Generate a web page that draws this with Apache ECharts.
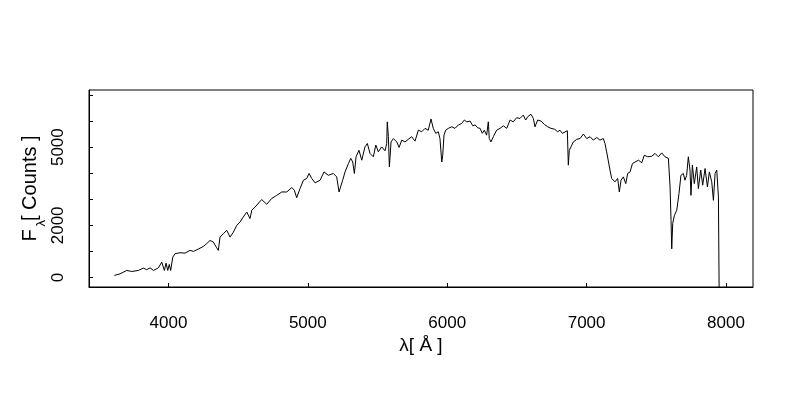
<!DOCTYPE html>
<html>
<head>
<meta charset="utf-8">
<script src="https://cdn.jsdelivr.net/npm/echarts@6/dist/echarts.min.js"></script>
<style>
html,body{margin:0;padding:0;background:#fff;}
#chart{width:800px;height:400px;}
</style>
</head>
<body>
<div id="chart"></div>
<script>
// Wavelength (Angstrom) and flux (counts)
const wavelength = [
3612,3653,3701,3737,3784,3820,3844,3868,3892,3928,3952,3971,3983,3995,4006,4016,4031,4047,4083,4119,
4155,4179,4214,4250,4275,4298,4322,4346,4358,4370,4394,4418,4442,4466,4490,4514,4537,4562,4585,4598,
4621,4669,4705,4741,4777,4813,4849,4885,4903,4920,4944,4968,4992,5009,5028,5052,5088,5116,5147,5183,
5207,5224,5238,5250,5267,5291,5308,5322,5334,5346,5367,5387,5410,5427,5446,5470,5488,5506,5530,5554,
5566,5570,5578,5585,5597,5614,5638,5655,5674,5697,
5721,5745,5769,5793,5817,5841,5864,5884,5900,5918,5936,5948,5961,5968,5977,5989,6008,6032,6056,6080,
6104,6123,6140,6164,6183,6200,6219,6236,6252,6266,6283,6295,6302,6314,6331,6343,6355,6379,6403,6427,
6451,6474,6498,6522,6546,6563,6578,6601,6618,6630,6649,6673,6697,6721,6745,6769,6793,6809,6826,
6840,6862,6869,6876,6888,6905,6929,6953,6977,7001,7025,7048,7073,7096,7120,7132,7144,7156,7168,7180,
7204,7223,7235,7247,7264,7281,7295,7312,7329,7348,7372,7396,7414,7439,7467,7491,7515,7539,7563,7587,
7599,7606,7611,7618,7630,7647,7663,7677,7694,7706,7718,7730,7742,7749,7759,7773,7790,7802,7819,7833,
7850,7867,7881,7898,7910,7922,7934,7946,7953
];
const flux = [
80,140,270,230,270,360,300,370,270,370,590,270,550,270,500,270,780,910,950,935,
1040,1000,1090,1190,1300,1420,1360,1140,1040,1550,1680,1810,1550,1740,2000,2130,2320,2510,2260,2580,
2700,2990,2810,3030,3150,3280,3280,3450,3350,3060,3410,3730,3800,3990,3800,3630,3730,4050,3920,3990,
3860,3280,3220,3730,4050,4370,4570,4430,3990,4630,4880,4500,5010,5140,4760,4630,5080,4820,5010,4860,
5140,5970,5400,4240,5200,5330,5200,4990,5270,5200,
5300,5400,5230,5650,5590,5720,5650,6080,5720,5530,5590,5330,4430,4690,5460,5650,5720,5780,5720,5850,
5910,6040,5970,6000,5820,5850,5740,5720,5530,5650,5460,5970,5330,5200,5400,5330,5650,5720,5820,5720,
6040,5970,6130,6100,6230,6040,6170,6260,6100,5780,6040,6000,5870,5780,5720,5690,5590,5650,5530,
5590,5630,4310,4880,5010,5200,5300,5330,5500,5330,5400,5270,5370,5270,5330,5140,4820,4760,4120,3800,
3670,3800,3280,3730,3860,3600,3990,4050,4370,4430,4500,4400,4690,4630,4650,4760,4630,4780,4630,4570,
3470,2190,1100,2070,2380,2580,3220,3920,3990,3730,3920,4630,4120,3150,4310,3600,4240,3410,4120,3540,
4180,3470,4050,3670,2960,3990,4120,3090,-2000
];
const xTicks = [4000, 5000, 6000, 7000, 8000];
const yTicks = [0, 1000, 2000, 3000, 4000, 5000, 6000, 7000];
const yLabels = [0, 2000, 5000];
const xRange = [3430, 8194];
const yRange = [-365, 7192];

const FONT = 'Liberation Sans, Arial, Helvetica, sans-serif';
const chart = echarts.init(document.getElementById('chart'), null, {renderer: 'canvas'});
chart.setOption({
  animation: false,
  backgroundColor: '#ffffff',
  grid: {left: 89, right: 47, top: 90, bottom: 113, show: true, borderColor: '#000', borderWidth: 1, backgroundColor: 'transparent'},
  xAxis: {
    type: 'value', min: xRange[0], max: xRange[1],
    axisLine: {show: true, onZero: false, lineStyle: {color: '#000', width: 1}},
    axisTick: {show: true, inside: true, length: 4, customValues: xTicks, lineStyle: {color: '#000'}},
    axisLabel: {show: true, customValues: xTicks, formatter: v => String(v), color: '#000', fontSize: 17, fontFamily: FONT, margin: 28},
    splitLine: {show: false}
  },
  yAxis: {
    type: 'value', min: yRange[0], max: yRange[1],
    axisLine: {show: true, onZero: false, lineStyle: {color: '#000', width: 1}},
    axisTick: {show: true, inside: true, length: 4, customValues: yTicks, lineStyle: {color: '#000'}},
    axisLabel: {show: true, customValues: yLabels, formatter: v => String(v), rotate: 90, color: '#000', fontSize: 17, fontFamily: FONT, margin: 22},
    splitLine: {show: false}
  },
  series: [{
    type: 'line',
    data: wavelength.map((w, i) => [w, flux[i]]),
    showSymbol: false, symbol: 'none',
    lineStyle: {color: '#000', width: 1},
    clip: true
  }],
  graphic: [
    {type: 'text', x: 30.5, y: 241.5, rotation: Math.PI / 2,
     style: {text: 'F', fontSize: 20, fontFamily: FONT, fill: '#000', align: 'left', verticalAlign: 'middle'}},
    {type: 'text', x: 41, y: 226.5, rotation: Math.PI / 2,
     style: {text: 'λ', fontSize: 13, fontFamily: FONT, fill: '#000', align: 'left', verticalAlign: 'middle'}},
    {type: 'text', x: 30.5, y: 221, rotation: Math.PI / 2,
     style: {text: '[ Counts ]', fontSize: 20, fontFamily: FONT, fill: '#000', align: 'left', verticalAlign: 'middle'}},
    {type: 'text', x: 421, y: 346,
     style: {text: 'λ[ Å ]', fontSize: 19, fontFamily: FONT, fill: '#000', align: 'center', verticalAlign: 'middle'}}
  ]
});
</script>
</body>
</html>
